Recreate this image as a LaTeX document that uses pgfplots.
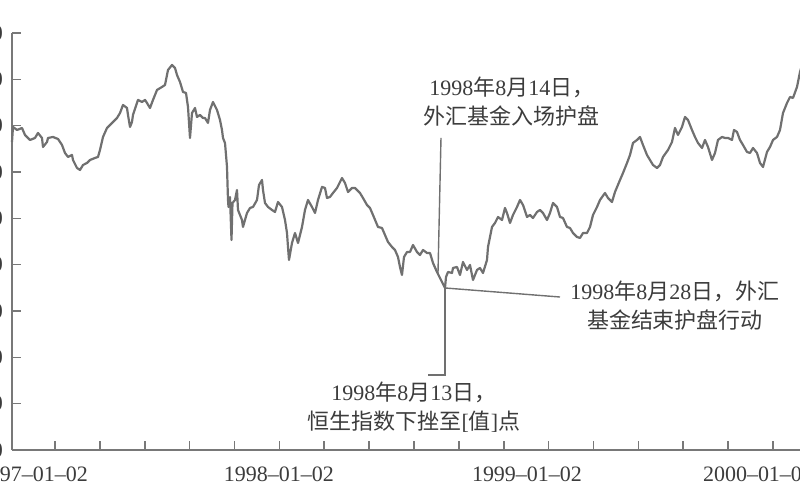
\documentclass[border=0pt]{standalone}
\usepackage{pgfplots}
\pgfplotsset{compat=1.18}
\usepackage{pgfplotstable}
\usepackage{fontspec}
\setmainfont{Liberation Serif}
\newfontfamily\cjk{Noto Sans CJK SC}
\newcommand\zh[1]{{\cjk #1}}
\definecolor{lin}{RGB}{112,112,112}
\definecolor{axc}{RGB}{120,120,120}
\definecolor{txt}{RGB}{60,60,60}
\pgfplotstableread{
x v
0 13296
1 13944
5 13814
10 13901
13 13599
18 13383
23 13469
26 13685
30 13469
31 13081
35 13296
36 13469
41 13512
46 13426
50 13167
53 12821
56 12649
60 12735
61 12519
65 12174
68 12088
71 12303
75 12390
78 12519
83 12606
86 12649
88 12951
91 13512
95 13901
98 14030
101 14160
105 14332
108 14548
111 14894
115 14764
116 14462
118 13944
120 14160
121 14462
125 14980
126 15110
130 15023
133 15110
135 14980
138 14764
141 15110
145 15541
150 15671
153 15757
156 16405
160 16620
163 16491
165 16189
168 15887
171 15455
174 15412
176 14807
178 13469
180 14548
183 14764
185 14376
188 14462
191 14332
193 14332
196 14117
198 14678
201 15023
205 14678
208 14246
210 13814
211 13469
213 13253
215 12217
216 10793
216.5 10490
218 10922
219.5 9066
220.5 10663
223 10793
225 11224
226 10361
230 9929
231 9627
235 10231
238 10447
241 10490
245 10793
247 11440
250 11656
251 11224
253 10663
256 10490
260 10361
263 10274
266 10706
270 10490
273 9929
275 9368
276 8764
277 8202
280 8936
283 9368
286 8936
290 9627
293 10361
296 10793
300 10490
303 10231
306 10793
310 11354
313 11311
315 10879
318 10922
321 11095
325 11311
330 11742
333 11526
336 11138
340 11311
343 11311
348 11095
351 10879
355 10577
358 10447
361 10145
366 9627
370 9584
373 9282
376 8979
380 8764
383 8634
386 8332
388 7900
390 7555
392 8332
395 8548
398 8548
401 8850
405 8548
408 8418
411 8634
415 8504
418 8504
421 8073
425 7684
428 7425
433 6994
434 7468
436 7684
440 7641
441 7857
445 7900
448 7555
451 8116
455 7771
458 7986
461 7339
465 7771
468 7857
471 7641
475 8202
476 8764
478 9195
480 9627
483 9800
486 10059
490 9929
493 10447
495 10231
498 9800
501 10145
505 10490
508 10793
511 10577
515 10059
518 10145
521 10015
525 10274
528 10361
531 10231
535 9929
538 10231
541 10663
545 10490
548 10059
551 10015
555 9627
558 9584
561 9368
565 9195
568 9152
571 9368
575 9368
578 9627
581 10145
585 10490
588 10793
593 11095
596 10879
600 10706
603 11138
608 11656
611 11958
615 12390
618 12735
621 13253
625 13383
628 13512
631 13167
635 12735
638 12519
641 12303
645 12174
648 12303
651 12649
656 12951
660 13296
663 13901
666 13599
670 13944
673 14376
676 14246
680 13814
683 13512
686 13253
690 13037
693 13383
696 13081
700 12519
703 12821
706 13383
710 13512
713 13469
716 13469
720 13383
722 13814
725 13728
728 13383
731 13167
735 12865
738 12821
741 13037
745 12821
748 12390
751 12217
755 12865
758 13081
761 13383
765 13512
768 13814
771 14548
775 14980
778 15239
781 15196
785 15671
788 16318
793 17052
}\hsi
\begin{document}
\begin{tikzpicture}
\begin{axis}[
  at={(0,0)}, anchor=south west,
  scale only axis, width=400pt, height=208.5pt,
  xmin=0, xmax=800, ymin=0, ymax=18000,
  axis x line*=bottom, axis y line*=left,
  axis line style={draw=axc, line width=0.9pt, -},
  tick align=inside, major tick length=4.5pt,
  tick style={draw=axc, line width=0.8pt},
  xtick={43,87.9,132.8,177.6,222.5,267.4,312.3,357.1,402,446.9,491.8,536.6,581.5,626.4,671.3,716.1,761},
  xticklabels={},
  extra x ticks={21,267,515,746},
  extra x tick labels={1997--01--02,1998--01--02,1999--01--02,2000--01--02},
  extra x tick style={tick style={draw=none}, tick label style={yshift=-5pt}},
  ytick={0,2000,...,18000},
  scaled y ticks=false,
  yticklabel style={xshift=-1pt},
  /pgf/number format/assume math mode=true,
  /pgf/number format/1000 sep={},
  tick label style={font=\fontsize{11}{13}\selectfont, text=txt},
  clip=false,
]
\addplot[lin, line width=1.1pt, line join=round] table[x=x, y=v] {\hsi};
\draw[lin, line width=0.7pt] (axis cs:429,13470) -- (axis cs:426,7640);
\draw[lin, line width=0.7pt] (axis cs:433,6994) -- (axis cs:433,3237) -- (axis cs:416,3237);
\draw[lin, line width=0.7pt] (axis cs:433,6994) -- (axis cs:548,6604);
\node[align=center, font=\fontsize{11}{14.5}\selectfont, text=txt] at (axis cs:500,15045)
  {1998\zh{年}8\zh{月}14\zh{日，}\\\zh{外汇基金入场护盘}};
\node[align=center, font=\fontsize{11}{14.5}\selectfont, text=txt] at (axis cs:663,6216)
  {1998\zh{年}8\zh{月}28\zh{日，外汇}\\\zh{基金结束护盘行动}};
\node[align=center, font=\fontsize{11}{14.5}\selectfont, text=txt] at (axis cs:402,1835)
  {1998\zh{年}8\zh{月}13\zh{日，}\\\zh{恒生指数下挫至}[\zh{值}]\zh{点}};
\end{axis}
\pgfresetboundingbox
\path[use as bounding box] (-6pt,-25pt) rectangle (394pt,225pt);
\end{tikzpicture}
\end{document}
